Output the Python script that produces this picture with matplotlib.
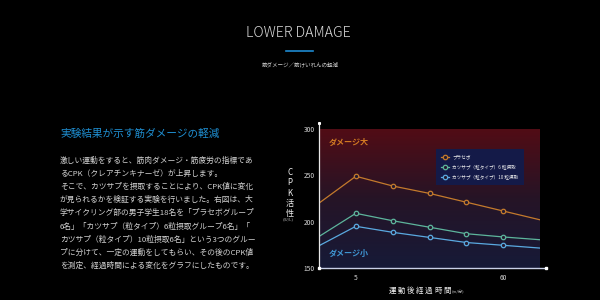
import matplotlib
matplotlib.use("Agg")
import matplotlib.pyplot as plt
import numpy as np
from matplotlib.colors import LinearSegmentedColormap
from matplotlib.lines import Line2D

plt.rcParams['font.family'] = ['Noto Sans CJK JP', 'DejaVu Sans']

# ---- data ----
x_pos = [0, 1, 2, 3, 4, 5, 6]
x_tick_pos = [1, 5]
x_tick_labels = ["5", "60"]
y_ticks = [150, 200, 250, 300]
series_names = ["プラセボ", "カツサプ（粒タイプ）6 粒摂取", "カツサプ（粒タイプ）10 粒摂取"]
placebo = [220, 249, 238.5, 230.5, 221, 211.5, 202]
six_grain = [184, 209, 201, 194, 187, 183.5, 180.5]
ten_grain = [174, 195, 188.5, 183, 177.5, 174.5, 171.5]
series_colors = ["#c47a2c", "#5db59c", "#5aa9e0"]

title = "LOWER DAMAGE"
subtitle = "筋ダメージ／筋けいれんの軽減"
heading = "実験結果が示す筋ダメージの軽減"
x_label = "運動後経過時間"
body_lines = [
    "激しい運動をすると、筋肉ダメージ・筋疲労の指標であ",
    "るCPK（クレアチンキナーゼ）が上昇します。",
    "そこで、カツサプを摂取することにより、CPK値に変化",
    "が見られるかを検証する実験を行いました。右図は、大",
    "学サイクリング部の男子学生18名を「プラセボグループ",
    "6名」「カツサプ（粒タイプ）6粒摂取グループ6名」「",
    "カツサプ（粒タイプ）10粒摂取6名」という3つのグルー",
    "プに分けて、一定の運動をしてもらい、その後のCPK値",
    "を測定、経過時間による変化をグラフにしたものです。",
]

W, H = 600, 300
fig = plt.figure(figsize=(6, 3), dpi=100, facecolor="black")

def fx(px):
    return px / W

def fy(py):
    return 1 - py / H

# ---- header ----
fig.text(fx(298), fy(33), title, ha="center", va="center", color="#dedede",
         fontsize=10.2, fontweight="light")
fig.add_artist(Line2D([fx(286), fx(313)], [fy(51), fy(51)], color="#1e8ad0", lw=1.2))
fig.text(fx(300), fy(64), subtitle, ha="center", va="center", color="#cfcfcf", fontsize=4)

# ---- left text ----
fig.text(fx(60), fy(134), heading, ha="left", va="center", color="#1f8fd2", fontsize=7.7)
for i, line in enumerate(body_lines):
    fig.text(fx(60), fy(161 + 13.1 * i), line, ha="left", va="center",
             color="#d2d2d2", fontsize=5.6)

# ---- chart ----
ax_l, ax_r, ax_t, ax_b = 319, 540, 129, 268
ax = fig.add_axes([fx(ax_l), fy(ax_b), fx(ax_r - ax_l), (ax_b - ax_t) / H])
ax.set_facecolor("black")
ax.set_xlim(0, 6)
ax.set_ylim(150, 300)

cmap = LinearSegmentedColormap.from_list("bg", ["#161a38", "#261426", "#520c15"])
grad = np.linspace(0, 1, 256).reshape(-1, 1)
ax.imshow(grad, aspect="auto", cmap=cmap, origin="lower",
          extent=[0, 6, 150, 300], zorder=0)

for vals, name, col in zip([placebo, six_grain, ten_grain], series_names, series_colors):
    ax.plot(x_pos, vals, color=col, lw=0.9, marker="o", markevery=[1, 2, 3, 4, 5],
            markersize=3.2, mfc="#241a30", mec=col, mew=0.9, label=name, zorder=3)

for s in ax.spines.values():
    s.set_visible(False)
ax.plot([0, 0], [150, 307], color="#e8e8e8", lw=0.9, clip_on=False, zorder=5)
ax.plot([0, 6.15], [150, 150], color="#c8d0e8", lw=1.0, clip_on=False, zorder=5)
ax.plot([0, 6.15], [150, 150], ls="none", marker="s", markersize=1.8,
        color="white", clip_on=False, zorder=6)
ax.plot([0], [307], ls="none", marker="s", markersize=1.2, color="white",
        clip_on=False, zorder=6)

ax.set_yticks(y_ticks)
ax.set_yticklabels([str(v) for v in y_ticks])
ax.set_xticks(x_tick_pos)
ax.set_xticklabels(x_tick_labels)
ax.tick_params(axis="both", length=0, colors="#d8d8d8", labelsize=4.8)
ax.tick_params(axis="y", pad=3)
ax.tick_params(axis="x", pad=4)

ax.text(0.045, 0.9, "ダメージ大", transform=ax.transAxes, color="#d27a22",
        fontsize=5.8, fontweight="bold", style="italic", ha="left", va="center")
ax.text(0.045, 0.105, "ダメージ小", transform=ax.transAxes, color="#3f96d2",
        fontsize=5.8, fontweight="bold", style="italic", ha="left", va="center")

leg = ax.legend(loc="upper left", bbox_to_anchor=(0.529, 0.856), borderaxespad=0,
                fontsize=3.3, frameon=True, fancybox=False, handlelength=1.7,
                handletextpad=0.6, borderpad=1.2, labelspacing=1.05)
leg.get_frame().set_facecolor("#141a48")
leg.get_frame().set_edgecolor("none")
leg.get_frame().set_alpha(1)
for t in leg.get_texts():
    t.set_color("#f0f0f0")

# y label (stacked characters)
fig.text(fx(290), fy(193), "C\nP\nK\n活\n性", ha="center", va="center",
         color="#eeeeee", fontsize=5.8, linespacing=1.15)
fig.text(fx(288), fy(219), "(IU/L)", ha="center", va="center", color="#bbbbbb", fontsize=3)

# x label with wide letter spacing
for i, ch in enumerate(x_label):
    fig.text(fx(392 + 9.2 * i), fy(291), ch, ha="center", va="center",
             color="#eeeeee", fontsize=5.4)
fig.text(fx(458), fy(292), "(m/分)", ha="center", va="center", color="#bbbbbb", fontsize=3)

fig.savefig("out.png", dpi=100, facecolor="black")
